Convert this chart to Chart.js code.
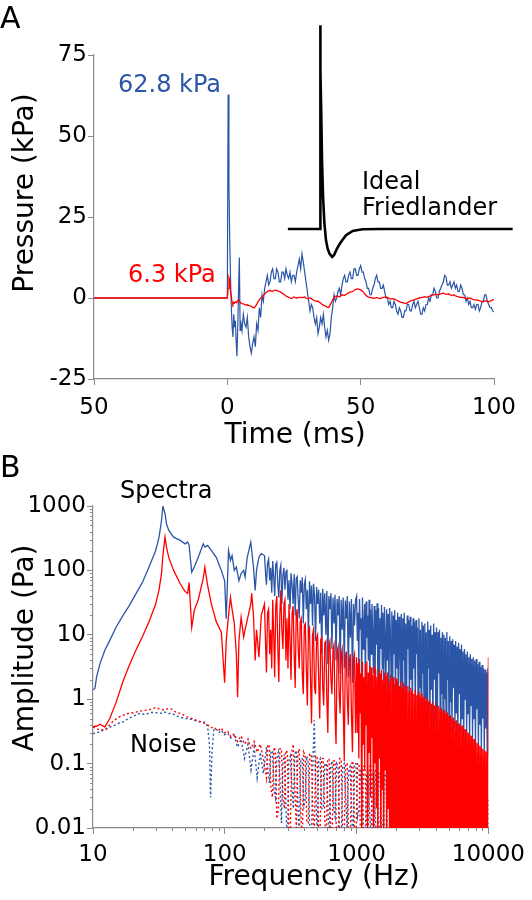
<!DOCTYPE html>
<html>
<head>
<meta charset="utf-8">
<script src="https://cdn.jsdelivr.net/npm/chart.js@4/dist/chart.umd.min.js"></script>
<style>
  html, body { margin: 0; padding: 0; background: #fff; }
  #wrap { position: relative; width: 532px; height: 900px; overflow: hidden; }
  canvas { position: absolute; left: 0; }
  #cA { top: 0; }
  #cB { top: 450px; }
</style>
</head>
<body>
<div id="wrap">
  <canvas id="cA" width="532" height="450"></canvas>
  <canvas id="cB" width="532" height="450"></canvas>
</div>
<script>
// ---------------- Panel A data (time in ms, pressure in kPa) ----------------
const timeMs = [
  -50, 0, 0.3, 0.6, 0.9, 1.2, 1.5, 1.8, 2.1, 2.4, 2.7, 3, 3.3, 3.6, 3.9, 4.2, 4.5, 4.8,
  5, 5.5, 6, 6.5, 7, 7.5, 8, 8.5, 9, 9.5,
  10, 10.5, 11, 11.5, 12, 12.5, 13, 13.5, 14, 14.5,
  15, 15.5, 16, 16.5, 17, 17.5, 18, 18.5, 19, 19.5,
  20, 20.5, 21, 21.5, 22, 22.5, 23, 23.5, 24, 24.5,
  25, 25.5, 26, 26.5, 27, 27.5, 28, 28.5, 29, 29.5,
  30, 30.5, 31, 31.5, 32, 32.5, 33, 33.5, 34, 34.5,
  35, 35.5, 36, 36.5, 37, 37.5, 38, 38.5, 39, 39.5,
  40, 40.5, 41, 41.5, 42, 42.5, 43, 43.5, 44, 44.5,
  45, 45.5, 46, 46.5, 47, 47.5, 48, 48.5, 49, 49.5,
  50, 50.5, 51, 51.5, 52, 52.5, 53, 53.5, 54, 54.5,
  55, 55.5, 56, 56.5, 57, 57.5, 58, 58.5, 59, 59.5,
  60, 60.5, 61, 61.5, 62, 62.5, 63, 63.5, 64, 64.5,
  65, 65.5, 66, 66.5, 67, 67.5, 68, 68.5, 69, 69.5,
  70, 70.5, 71, 71.5, 72, 72.5, 73, 73.5, 74, 74.5,
  75, 75.5, 76, 76.5, 77, 77.5, 78, 78.5, 79, 79.5,
  80, 80.5, 81, 81.5, 82, 82.5, 83, 83.5, 84, 84.5,
  85, 85.5, 86, 86.5, 87, 87.5, 88, 88.5, 89, 89.5,
  90, 90.5, 91, 91.5, 92, 92.5, 93, 93.5, 94, 94.5,
  95, 95.5, 96, 96.5, 97, 97.5, 98, 98.5, 99, 99.5,
  100
];
const bluePressure = [
  0, 0, 62.8, 35, 18, 6, -3, -9, -12, -5, -9, -7, -13, -18, -9, 2, 12.5, -10,
  -7, -10, -5, -8, -9, -6, -12, -15, -17, -14,
  -12, -15, -8, -10, -3, -6, 1, -1, 3, 5,
  7, 4, 5, 8, 9, 6, 6, 9, 8, 5,
  5, 8, 8, 6, 9, 7, 6, 8, 5, 7,
  7, 5, 8, 10, 12, 9, 13.6, 11, 8, 5,
  2, -1, -4, -2, -3, -6, -8, -6, -11, -9,
  -6, -8, -5, -9, -12, -10, -13, -11, -6, -3,
  1, -1, 0, 2, 3, 1, 4, 6, 7, 5,
  5, 7, 8, 6, 6, 9, 9, 7, 7, 9,
  10, 8, 8, 6, 5, 3, 3, 1, 1, 3,
  4, 6, 7, 5, 5, 3, 3, 4, 2, 0,
  0, -2, -1, -3, -3, -1, -2, -4, -5, -3,
  -4, -6, -6, -4, -4, -2, -2, -4, -4, -2,
  -1, -3, -2, -1, -3, -5, -5, -3, -4, -2,
  -2, 0, -1, 1, 1, 3, 2, 0, 0, 2,
  3, 4, 5, 7, 6.5, 4, 4, 5, 3, 4,
  5, 3, 4, 2, 2, 4, 3, 1, 1, -1,
  0, -2, -1, -3, -3, -2, -3.5, -2, -2, -4,
  -3, -1, -1, 1, 1, -1, -2, -3, -3, -4,
  -4.3
];
const redPressure = [
  0, 0, 3, 6.3, 5.5, 2, 0.5, -1.5, -2, -1.3, -1.6, -1.2, -1.4, -1.0, -0.8, -0.6, -0.9, -1.3,
  -1.5, -1.7, -1.8, -2.0, -2.2, -2.1, -2.3, -2.4, -2.6, -2.9,
  -3.1, -2.6, -2.0, -1.2, -0.5, 0, 0.3, 0.8, 1.2, 1.6,
  2.0, 2.2, 2.3, 2.1, 2.1, 2.3, 2.4, 2.3, 2.2, 2.0,
  1.8, 1.5, 1.3, 0.9, 0.6, 0.4, 0.2, 0, -0.2, 0,
  0.3, 0.1, 0, 0.1, 0.2, 0.2, 0.1, 0.2, 0.3, 0,
  -0.2, -0.1, 0, -0.2, -0.5, -0.7, -0.9, -1.0, -1, -1.3,
  -1.6, -1.9, -2.2, -2.4, -2.6, -2.8, -2.9, -2.2, -1.5, -0.6,
  0.2, 0.5, 0.6, 0.5, 0.4, 0.7, 1, 0.9, 0.8, 1.1,
  1.4, 1.6, 1.8, 1.9, 2, 2.3, 2.6, 2.7, 2.8, 2.7,
  2.5, 2.2, 1.9, 1.3, 0.8, 0.5, 0.3, 0.2, 0.1, 0,
  -0.1, 0, 0.2, 0, -0.2, -0.1, 0.1, 0.2, 0.3, 0.3,
  0.2, 0, -0.3, -0.3, -0.2, -0.3, -0.5, -0.7, -0.9, -1.1,
  -1.3, -1.4, -1.5, -1.6, -1.7, -1.5, -1.2, -1.0, -0.8, -0.7,
  -0.6, -0.4, -0.3, -0.1, 0, 0.1, 0.2, 0.3, 0.4, 0.3,
  0.2, 0.4, 0.6, 0.8, 0.9, 1.0, 1.2, 1.1, 1.0, 1.1,
  1.3, 1.4, 1.5, 1.3, 1.1, 1.2, 1.3, 1.0, 0.8, 0.9,
  1.0, 0.7, 0.5, 0.4, 0.3, 0.2, 0.2, 0.1, 0, -0.1,
  -0.2, -0.1, 0, -0.2, -0.4, -0.5, -0.6, -0.6, -0.7, -0.8,
  -1, -1.1, -1.2, -1.0, -0.9, -1.0, -1.2, -1.0, -0.8, -0.6,
  -0.5
];
const friedlanderT = [22.7, 34.8, 34.8, 35.0, 35.2, 35.5, 35.9, 36.4, 37, 37.6, 38.3, 39.3, 40.0, 40.8, 41.7, 42.6, 44.5, 47, 50.7, 57, 107];
const friedlanderP = [21.3, 21.3, 84.2, 70, 57.9, 42.5, 31.2, 23, 17.8, 15.3, 13.7, 12.7, 13.2, 14.7, 16.1, 17.3, 19.4, 20.7, 21.2, 21.3, 21.3];
const xTickValsA = [-50, 0, 50, 100];
const xTickLabelsA = ['50', '0', '50', '100'];
const yTickValsA = [-25, 0, 25, 50, 75];
const yTickLabelsA = ['-25', '0', '25', '50', '75'];

// ---------------- Panel B data (frequency in Hz, amplitude in Pa) ----------------
const specFreq = [
  // 10 - 200 Hz
  10, 10.35, 10.65, 11.3, 12.3, 13.4, 15, 16.9, 18.9, 21.2,
  23.8, 26.6, 29.9, 31.7, 33.1, 33.9, 35.2, 36.1, 37.6, 40.9,
  45.9, 50, 52.3, 53.6, 56.1, 58.7, 62.9, 68.6, 70.6, 73.9,
  79.1, 86.1, 94.1, 99.7, 102.5, 106.7, 110.4, 113.5, 118, 122.4,
  125, 128, 133, 139, 142.6, 148, 157.4, 160, 165, 170,
  174, 181.5, 189,
  // 200 - 1000 Hz
  200, 203.5, 207, 211, 215, 219, 223, 227, 231, 235,
  239, 243.5, 248, 252.5, 257, 261.5, 266, 271, 276, 281,
  286, 291, 296, 301.5, 307, 312.5, 318, 324, 330, 336,
  342, 348, 354, 360.5, 367, 373.5, 380, 387, 394, 401,
  408, 415.5, 423, 431, 439, 447, 455, 463, 471, 479.5,
  488, 497, 506, 515.5, 525, 534.5, 544, 553.5, 563, 573.5,
  584, 594.5, 605, 616, 627, 638.5, 650, 662, 674, 686,
  698, 711, 724, 737, 750, 763.5, 777, 791.5, 806, 820.5,
  835, 850, 865, 881, 897, 913.5, 930, 947, 964, 982,
  // 1000 - 10000 Hz
  1000, 1013, 1026, 1039, 1052, 1066, 1080, 1094, 1108, 1122,
  1136, 1151, 1166, 1181, 1196, 1211, 1227, 1243, 1259, 1275,
  1292, 1308, 1325, 1342, 1360, 1377, 1395, 1413, 1431, 1449,
  1468, 1487, 1507, 1526, 1546, 1565, 1585, 1606, 1627, 1647,
  1668, 1690, 1712, 1734, 1756, 1779, 1802, 1825, 1849, 1873,
  1897, 1921, 1946, 1971, 1996, 2022, 2048, 2074, 2101, 2128,
  2156, 2184, 2212, 2241, 2270, 2299, 2329, 2359, 2389, 2420,
  2451, 2483, 2515, 2547, 2580, 2613, 2647, 2681, 2716, 2751,
  2787, 2823, 2859, 2896, 2933, 2971, 3009, 3048, 3088, 3128,
  3168, 3209, 3250, 3292, 3334, 3377, 3421, 3465, 3510, 3555,
  3601, 3648, 3695, 3743, 3791, 3840, 3889, 3939, 3990, 4042,
  4094, 4147, 4200, 4254, 4309, 4365, 4421, 4478, 4536, 4595,
  4654, 4714, 4775, 4837, 4899, 4962, 5026, 5091, 5157, 5224,
  5291, 5360, 5429, 5499, 5570, 5642, 5714, 5788, 5863, 5939,
  6015, 6093, 6171, 6251, 6332, 6414, 6496, 6580, 6665, 6751,
  6838, 6927, 7016, 7107, 7198, 7291, 7385, 7480, 7577, 7675,
  7774, 7875, 7976, 8079, 8183, 8289, 8396, 8505, 8614, 8725,
  8838, 8952, 9067, 9184, 9303, 9423, 9545, 9668, 9793, 9900,
  10000
];
const blueSpectrum = [
  1.4, 1.47, 2.22, 3.57, 5.75, 8.2, 13.2, 20, 28.6, 43.5,
  66, 113, 204, 328, 596, 993, 758, 525, 417, 328,
  292, 258, 275, 245, 94, 113, 160, 258, 230, 245,
  204, 160, 100, 69, 17.8, 204, 143, 170, 100, 113,
  90, 69, 89, 100, 79, 160, 275, 204, 113, 49,
  100, 160, 182,
  170, 95, 60, 130, 150, 70, 110, 45, 140, 80,
  40, 125, 134, 60, 38, 100, 120, 30, 85, 110,
  50, 95, 100, 35, 70, 25, 90, 60, 30, 88,
  20, 75, 80, 35, 18, 70, 45, 78, 15, 60,
  72, 25, 50, 10, 68, 30, 58, 14, 62, 40,
  8, 55, 30, 50, 15, 45, 5, 52, 20, 44,
  10, 48, 3.5, 40, 25, 44, 6, 38, 15, 42,
  4, 36, 20, 40, 2.5, 35, 12, 38, 3, 34,
  18, 40, 2.2, 33, 9, 36, 1.8, 30, 14, 35,
  40, 8, 22, 3, 36, 12, 18, 2, 38, 6,
  14, 30, 1.5, 33, 9, 20, 4, 35, 1.2, 25,
  5, 30, 10, 2.5, 28, 0.9, 24, 7, 31, 2,
  26, 0.8, 18, 6, 29, 3, 22, 1, 27, 9,
  1.5, 25, 4, 21, 0.7, 26, 12, 2, 23, 0.6,
  20, 5, 24, 1.1, 17, 3, 22, 0.5, 19, 8,
  1.8, 21, 0.6, 18, 4, 22, 1, 15, 0.45, 20,
  6, 17, 0.8, 19, 2, 14, 0.5, 18, 3, 16,
  0.6, 17, 5, 13, 0.4, 18, 1.5, 12, 0.7, 16,
  2.5, 14, 0.4, 15, 1, 11, 0.35, 16, 3, 12,
  0.5, 14, 1.4, 10, 0.3, 15, 2, 11, 0.45, 13,
  0.35, 11, 2.5, 12, 0.5, 9, 1.2, 11, 0.3, 10,
  1, 9, 0.35, 11, 2, 8, 0.3, 9.5, 0.9, 8,
  0.3, 8.5, 1.5, 7, 0.35, 8, 0.6, 6.5, 0.25, 7.5,
  1.2, 6, 0.3, 7, 0.5, 5.5, 0.22, 6, 1, 5,
  0.3, 5.5, 0.6, 4.5, 0.2, 5, 0.8, 4.2, 0.25, 4.5,
  0.5, 4, 0.2, 4.2, 0.7, 3.5, 0.18, 3.8, 0.4, 3.2,
  0.16, 3.4, 0.5, 3, 0.15, 2.9, 0.35, 2.6, 0.14, 2.7,
  2.5
];
const redSpectrum = [
  0.37, 0.38, 0.38, 0.41, 0.37, 0.5, 0.9, 1.9, 3.4, 5.8,
  9.5, 16, 30, 50, 90, 170, 330, 230, 158, 100,
  62, 47, 44, 65, 13, 24, 35, 75, 112, 60,
  30, 16, 11, 1.8, 8, 20, 38, 25, 15, 5,
  1.07, 8, 18.7, 9.2, 12, 17, 30, 44, 20, 4,
  12, 4.5, 20,
  30, 8, 2.6, 22, 25, 5, 12, 3, 35, 10,
  2.2, 28, 40, 6, 1.85, 20, 49, 12, 6, 30,
  35, 4, 18, 3, 30, 8, 2, 22, 28, 5,
  1.5, 20, 25, 6, 3, 16, 18, 2.5, 1.2, 14,
  15, 3, 0.8, 12, 13, 2, 0.42, 10, 12, 1.5,
  1.2, 9, 10, 2, 0.5, 8.5, 9, 1.5, 0.8, 7.5,
  8, 1, 0.3, 7, 8, 2, 1.2, 6, 7, 0.6,
  0.2, 5.5, 6.5, 1.2, 0.6, 5, 6, 0.8, 0.11, 4.5,
  5.5, 1, 0.4, 4, 5, 0.6, 0.15, 4.2, 5, 0.3,
  4.5, 0.3, 3.6, 0.12, 4.2, 0.6, 2.5, 0.005, 3.8, 0.2,
  2.2, 0.08, 3.5, 0.4, 3.9, 0.005, 2.6, 0.15, 3.3, 0.03,
  3.1, 0.25, 2.4, 0.005, 3.2, 0.1, 2.9, 0.02, 2.2, 0.005,
  2.8, 0.12, 2.5, 0.005, 2.9, 0.04, 2, 0.005, 2.6, 0.08,
  2.3, 0.005, 2.6, 0.02, 1.9, 0.005, 2.4, 0.005, 2.1, 0.01,
  2.2, 0.005, 1.7, 0.005, 2.1, 0.005, 1.9, 0.008, 1.6, 0.005,
  1.9, 0.005, 1.5, 0.005, 1.8, 0.006, 1.6, 0.005, 1.4, 0.005,
  1.6, 0.005, 1.3, 0.005, 1.5, 0.005, 1.35, 0.007, 1.2, 0.005,
  1.4, 0.005, 1.15, 0.005, 1.3, 0.005, 1.1, 0.005, 1.2, 0.005,
  1.05, 0.005, 1.1, 0.005, 0.95, 0.005, 1.0, 0.005, 0.9, 0.005,
  0.95, 0.005, 0.85, 0.005, 0.9, 0.005, 0.8, 0.005, 0.82, 0.005,
  0.75, 0.005, 0.8, 0.005, 0.7, 0.005, 0.72, 0.005, 0.65, 0.005,
  0.68, 0.005, 0.6, 0.005, 0.62, 0.005, 0.55, 0.005, 0.56, 0.005,
  0.5, 0.005, 0.52, 0.005, 0.46, 0.005, 0.47, 0.005, 0.42, 0.005,
  0.42, 0.005, 0.38, 0.005, 0.39, 0.005, 0.34, 0.005, 0.34, 0.005,
  0.31, 0.005, 0.3, 0.005, 0.28, 0.005, 0.27, 0.005, 0.25, 0.005,
  0.24, 0.005, 0.22, 0.005, 0.21, 0.005, 0.2, 0.005, 0.19, 0.005,
  0.18, 0.005, 0.17, 0.005, 0.16, 0.005, 0.155, 0.005, 0.15, 0.005,
  4.5
];
const noiseFreq = [
  10, 10.35, 11.3, 12.6, 14.1, 15.5, 16.8, 18.5, 20.5, 22.4,
  25, 27.5, 29.8, 32, 35, 37.5, 39.7, 43, 46.5, 50,
  53, 57, 61, 65.5, 70.5, 74, 76.5, 78, 80, 82.5,
  86, 90, 94, 99, 105, 111, 118, 125, 133, 141,
  150, 158, 167, 176, 186, 196,
  207, 212, 218, 224, 230, 236, 242, 248, 255, 262,
  269, 276, 283, 290, 298, 306, 314, 322, 331, 340,
  349, 358, 367, 377, 387, 397, 408, 419, 430, 441,
  453, 465, 477, 489, 502, 515, 529, 543, 558, 573,
  588, 603, 619, 635, 652, 669, 687, 705, 724, 743,
  763, 783, 804, 825, 847, 869, 892, 916, 940, 965,
  990, 1016, 1043, 1071, 1099, 1128, 1158, 1189, 1220, 1252,
  1285, 1319, 1354, 1390, 1426, 1464, 1503, 1543, 1583, 1625,
  1668, 1712, 1757, 1804, 1851, 1900, 1950, 2002, 2055, 2110,
  2165, 2223, 2281, 2341, 2403, 2467, 2531, 2598, 2667,
  2809, 2960, 3118, 3285, 3461, 3646, 3841, 4047, 4263, 4491,
  4732, 4985, 5252, 5533, 5829, 6141, 6470, 6816, 7181, 7565,
  7970, 8397, 8846, 9320, 9818, 10000
];
const blueNoise = [
  0.29, 0.3, 0.31, 0.35, 0.38, 0.42, 0.44, 0.5, 0.55, 0.6,
  0.58, 0.62, 0.62, 0.6, 0.63, 0.6, 0.6, 0.55, 0.52, 0.5,
  0.5, 0.48, 0.46, 0.44, 0.44, 0.38, 0.2, 0.03, 0.15, 0.33,
  0.35, 0.3, 0.33, 0.28, 0.3, 0.25, 0.27, 0.18, 0.24, 0.12,
  0.2, 0.08, 0.18, 0.06, 0.15, 0.07,
  0.18, 0.08, 0.05, 0.15, 0.16, 0.04, 0.03, 0.12, 0.15, 0.06,
  0.012, 0.1, 0.14, 0.03, 0.004, 0.11, 0.13, 0.05, 0.02, 0.14,
  0.16, 0.03, 0.006, 0.12, 0.12, 0.02, 0.03, 0.13, 0.1, 0.01,
  0.004, 0.09, 0.47, 0.05, 0.006, 0.11, 0.12, 0.02, 0.02, 0.1,
  0.1, 0.03, 0.005, 0.09, 0.11, 0.02, 0.015, 0.1, 0.09, 0.008,
  0.004, 0.09, 0.1, 0.03, 0.01, 0.08, 0.09, 0.02, 0.005, 0.1,
  0.1, 0.015, 0.02, 0.08, 0.085, 0.01, 0.004, 0.07, 0.08, 0.02,
  0.008, 0.07, 0.075, 0.012, 0.004, 0.07, 0.07, 0.01, 0.012, 0.065,
  0.07, 0.008, 0.004, 0.06, 0.065, 0.01, 0.006, 0.055, 0.06, 0.005,
  0.004, 0.05, 0.06, 0.008, 0.01, 0.05, 0.055, 0.006, 0.004,
  0.05, 0.006, 0.05, 0.004, 0.045, 0.008, 0.045, 0.004, 0.04, 0.006,
  0.04, 0.004, 0.035, 0.005, 0.035, 0.004, 0.03, 0.006, 0.03, 0.004,
  0.028, 0.005, 0.025, 0.004, 0.025, 0.005
];
const redNoise = [
  0.37, 0.36, 0.33, 0.34, 0.45, 0.52, 0.56, 0.6, 0.62, 0.65,
  0.67, 0.7, 0.74, 0.7, 0.68, 0.72, 0.7, 0.62, 0.6, 0.55,
  0.52, 0.5, 0.47, 0.45, 0.42, 0.4, 0.38, 0.37, 0.36, 0.37,
  0.34, 0.33, 0.36, 0.3, 0.32, 0.26, 0.29, 0.22, 0.27, 0.2,
  0.24, 0.17, 0.22, 0.15, 0.2, 0.12,
  0.06, 0.2, 0.18, 0.04, 0.03, 0.18, 0.16, 0.014, 0.02, 0.17,
  0.17, 0.03, 0.02, 0.16, 0.15, 0.01, 0.008, 0.15, 0.2, 0.04,
  0.01, 0.14, 0.17, 0.02, 0.005, 0.15, 0.13, 0.012, 0.012, 0.14,
  0.14, 0.02, 0.006, 0.13, 0.13, 0.008, 0.01, 0.12, 0.12, 0.015,
  0.005, 0.11, 0.12, 0.01, 0.008, 0.11, 0.11, 0.006, 0.004, 0.12,
  0.12, 0.01, 0.006, 0.1, 0.1, 0.008, 0.004, 0.1, 0.11, 0.006,
  0.008, 0.1, 0.1, 0.006, 0.004, 0.09, 0.09, 0.01, 0.006, 0.09,
  0.09, 0.005, 0.004, 0.085, 0.085, 0.006, 0.008, 0.08, 0.08, 0.005,
  0.004, 0.075, 0.075, 0.006, 0.006, 0.07, 0.07, 0.005, 0.004, 0.07,
  0.07, 0.005, 0.006, 0.065, 0.065, 0.004, 0.004, 0.06, 0.06,
  0.005, 0.06, 0.004, 0.055, 0.006, 0.05, 0.004, 0.05, 0.005, 0.045,
  0.004, 0.045, 0.005, 0.04, 0.004, 0.04, 0.005, 0.035, 0.004, 0.035,
  0.005, 0.03, 0.004, 0.03, 0.005, 0.03
];
const xTickValsB = [10, 100, 1000, 10000];
const xTickLabelsB = ['10', '100', '1000', '10000'];
const yTickValsB = [0.01, 0.1, 1, 10, 100, 1000];
const yTickLabelsB = ['0.01', '0.1', '1', '10', '100', '1000'];

// sanity check of lengths
[[timeMs, bluePressure, 'bluePressure'], [timeMs, redPressure, 'redPressure'],
 [friedlanderT, friedlanderP, 'friedlander'],
 [specFreq, blueSpectrum, 'blueSpectrum'], [specFreq, redSpectrum, 'redSpectrum'],
 [noiseFreq, blueNoise, 'blueNoise'], [noiseFreq, redNoise, 'redNoise']].forEach(([a, b, n]) => {
  if (a.length !== b.length) throw new Error('length mismatch ' + n + ': ' + a.length + ' vs ' + b.length);
});

// ---------------- styling ----------------
const FONT = "'DejaVu Sans', Verdana, sans-serif";
const BLUE = '#2b55a6';
const RED = '#ff0000';
const AXIS = '#8a8a8a';
const pairs = (xs, ys) => xs.map((x, i) => ({ x: x, y: ys[i] }));

function textPlugin(items) {
  return {
    id: 'texts',
    afterDraw(chart) {
      const ctx = chart.ctx;
      items.forEach(it => {
        ctx.save();
        ctx.font = it.size + 'px ' + FONT;
        ctx.fillStyle = it.color || '#000';
        ctx.textBaseline = 'alphabetic';
        ctx.textAlign = it.align || 'left';
        if (it.rot) {
          ctx.translate(it.x, it.y);
          ctx.rotate(-Math.PI / 2);
          ctx.fillText(it.text, 0, 0);
        } else {
          ctx.fillText(it.text, it.x, it.y);
        }
        ctx.restore();
      });
    }
  };
}

const minorTicksPlugin = {
  id: 'minorTicks',
  afterDraw(chart) {
    const ctx = chart.ctx;
    const xs = chart.scales.x, ys = chart.scales.y;
    ctx.save();
    ctx.strokeStyle = AXIS;
    ctx.lineWidth = 1;
    ctx.beginPath();
    [10, 100, 1000].forEach(d => {
      for (let m = 2; m <= 9; m++) {
        const px = Math.round(xs.getPixelForValue(d * m)) + 0.5;
        ctx.moveTo(px, xs.top);
        ctx.lineTo(px, xs.top + 3);
      }
    });
    [0.01, 0.1, 1, 10, 100].forEach(d => {
      for (let m = 2; m <= 9; m++) {
        const py = Math.round(ys.getPixelForValue(d * m)) + 0.5;
        ctx.moveTo(ys.right - 3, py);
        ctx.lineTo(ys.right, py);
      }
    });
    ctx.stroke();
    ctx.restore();
  }
};

function axisCommon() {
  return {
    grid: { display: true, drawOnChartArea: false, drawTicks: true, tickLength: 6, color: AXIS, tickColor: AXIS, tickWidth: 1 },
    border: { display: true, color: AXIS, width: 1.2 },
  };
}

// ---------------- Chart A ----------------
new Chart(document.getElementById('cA'), {
  type: 'line',
  data: {
    datasets: [
      { label: 'Ideal Friedlander', data: pairs(friedlanderT, friedlanderP), borderColor: '#000', borderWidth: 2.6, pointRadius: 0, tension: 0, clip: false },
      { label: '6.3 kPa', data: pairs(timeMs, redPressure), borderColor: RED, borderWidth: 1.3, pointRadius: 0, tension: 0 },
      { label: '62.8 kPa', data: pairs(timeMs, bluePressure), borderColor: BLUE, borderWidth: 1.2, pointRadius: 0, tension: 0 }
    ]
  },
  options: {
    responsive: false, animation: false, devicePixelRatio: 1,
    layout: { autoPadding: false, padding: { top: 55, right: 38, left: 0, bottom: 0 } },
    plugins: { legend: { display: false }, tooltip: { enabled: false } },
    scales: {
      x: Object.assign(axisCommon(), {
        type: 'linear', min: -50, max: 100,
        afterBuildTicks: s => { s.ticks = xTickValsA.map(v => ({ value: v })); },
        afterFit: s => { s.height = 450 - 379; },
        ticks: { color: '#000', font: { family: FONT, size: 23 }, padding: 9, maxRotation: 0, autoSkip: false,
                 callback: (v, i) => xTickLabelsA[i] }
      }),
      y: Object.assign(axisCommon(), {
        type: 'linear', min: -25, max: 75,
        afterBuildTicks: s => { s.ticks = yTickValsA.map(v => ({ value: v })); },
        afterFit: s => { s.width = 94; },
        ticks: { color: '#000', font: { family: FONT, size: 23 }, padding: 1, autoSkip: false,
                 callback: (v, i) => yTickLabelsA[i] }
      })
    }
  },
  plugins: [textPlugin([
    { text: 'A', x: 0, y: 28, size: 30 },
    { text: '62.8 kPa', x: 118, y: 92, size: 24, color: BLUE },
    { text: '6.3 kPa', x: 128, y: 282, size: 24, color: RED },
    { text: 'Ideal', x: 362, y: 189, size: 24 },
    { text: 'Friedlander', x: 362, y: 215, size: 24 },
    { text: 'Pressure (kPa)', x: 33, y: 193, size: 28, rot: true, align: 'center' },
    { text: 'Time (ms)', x: 295, y: 443, size: 28, align: 'center' }
  ])]
});

// ---------------- Chart B ----------------
new Chart(document.getElementById('cB'), {
  type: 'line',
  data: {
    datasets: [
      { label: 'Spectrum 6.3 kPa', data: pairs(specFreq, redSpectrum), borderColor: RED, borderWidth: 1.3, pointRadius: 0, tension: 0 },
      { label: 'Spectrum 62.8 kPa', data: pairs(specFreq, blueSpectrum), borderColor: BLUE, borderWidth: 1.3, pointRadius: 0, tension: 0 },
      { label: 'Noise 6.3 kPa', data: pairs(noiseFreq, redNoise), borderColor: RED, borderWidth: 1.4, borderDash: [2, 2.5], pointRadius: 0, tension: 0 },
      { label: 'Noise 62.8 kPa', data: pairs(noiseFreq, blueNoise), borderColor: BLUE, borderWidth: 1.4, borderDash: [2, 2.5], pointRadius: 0, tension: 0 }
    ]
  },
  options: {
    responsive: false, animation: false, devicePixelRatio: 1,
    layout: { autoPadding: false, padding: { top: 56, right: 38, left: 0, bottom: 0 } },
    plugins: { legend: { display: false }, tooltip: { enabled: false } },
    scales: {
      x: Object.assign(axisCommon(), {
        type: 'logarithmic', min: 10, max: 10000,
        afterBuildTicks: s => { s.ticks = xTickValsB.map(v => ({ value: v })); },
        afterFit: s => { s.height = 450 - 378; },
        ticks: { color: '#000', font: { family: FONT, size: 23 }, padding: 7, maxRotation: 0, autoSkip: false,
                 callback: (v, i) => xTickLabelsB[i] }
      }),
      y: Object.assign(axisCommon(), {
        type: 'logarithmic', min: 0.01, max: 1000,
        afterBuildTicks: s => { s.ticks = yTickValsB.map(v => ({ value: v })); },
        afterFit: s => { s.width = 93; },
        ticks: { color: '#000', font: { family: FONT, size: 23 }, padding: 1, autoSkip: false,
                 callback: (v, i) => yTickLabelsB[i] }
      })
    }
  },
  plugins: [minorTicksPlugin, textPlugin([
    { text: 'B', x: 0, y: 27, size: 30 },
    { text: 'Spectra', x: 120, y: 48, size: 24 },
    { text: 'Noise', x: 130, y: 302, size: 24 },
    { text: 'Amplitude (Pa)', x: 33, y: 198, size: 28, rot: true, align: 'center' },
    { text: 'Frequency (Hz)', x: 314, y: 435, size: 28, align: 'center' }
  ])]
});
</script>
</body>
</html>
